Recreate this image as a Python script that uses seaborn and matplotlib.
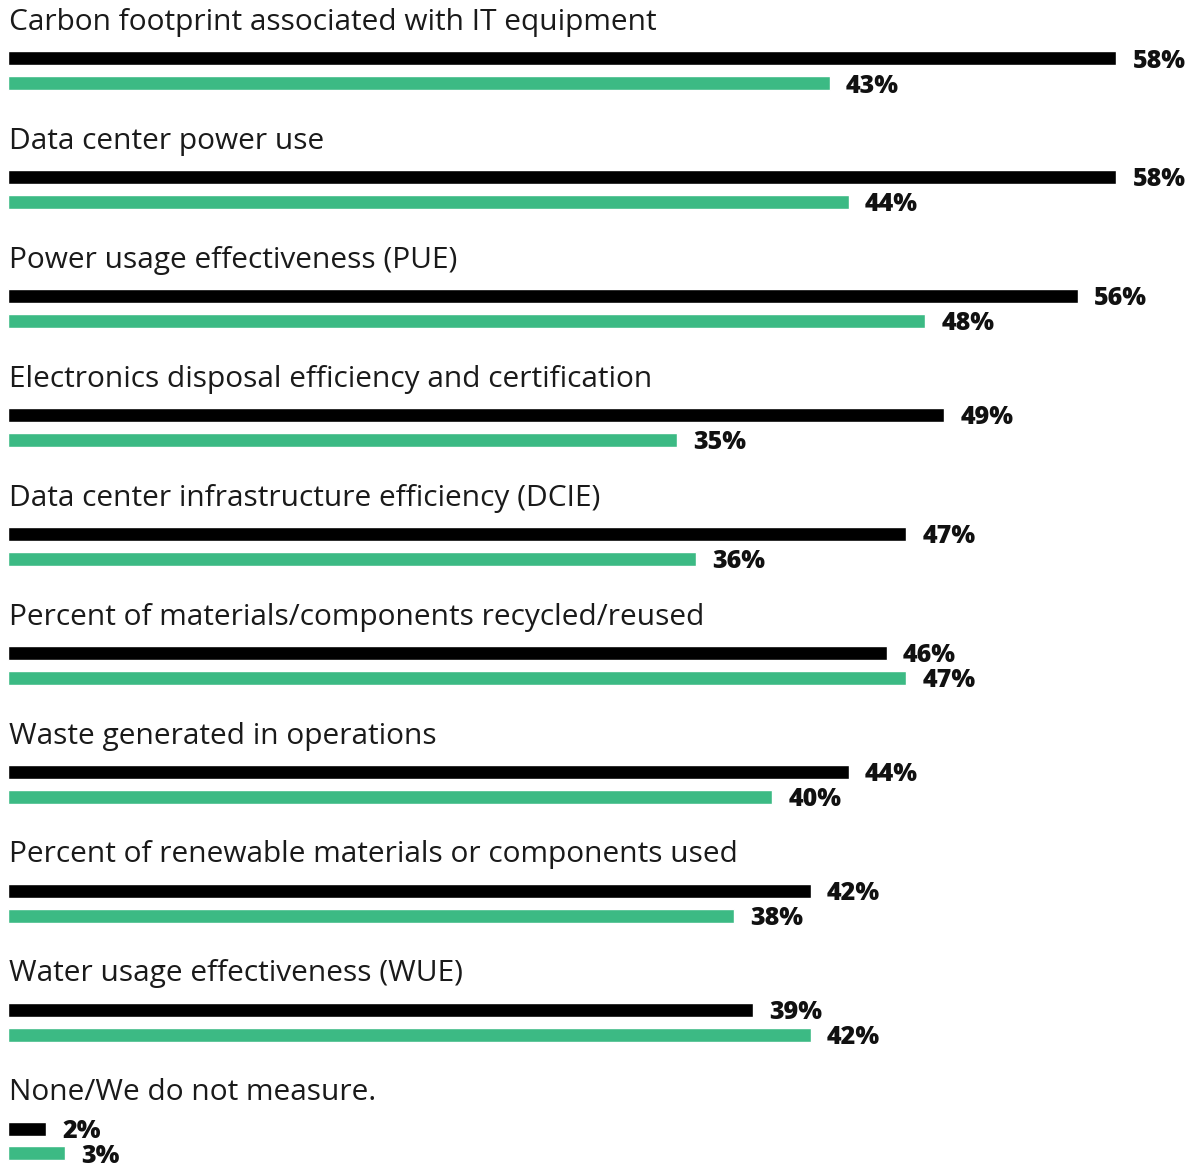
import pandas as pd
import matplotlib.pyplot as plt
import seaborn as sns

categories = [
    'Carbon footprint associated with IT equipment',
    'Data center power use',
    'Power usage effectiveness (PUE)',
    'Electronics disposal efficiency and certification',
    'Data center infrastructure efficiency (DCIE)',
    'Percent of materials/components recycled/reused',
    'Waste generated in operations',
    'Percent of renewable materials or components used',
    'Water usage effectiveness (WUE)',
    'None/We do not measure.',
]
series_1 = [58, 58, 56, 49, 47, 46, 44, 42, 39, 2]
series_2 = [43, 44, 48, 35, 36, 47, 40, 38, 42, 3]
series_names = ['Series 1', 'Series 2']
colors = ['#000000', '#3CBA84']

df = pd.DataFrame({
    'category': categories * 2,
    'series': [series_names[0]] * len(categories) + [series_names[1]] * len(categories),
    'value': series_1 + series_2,
})

sns.set_style('white')
plt.rcParams['font.family'] = ['Open Sans', 'DejaVu Sans']

fig = plt.figure(figsize=(11.91, 11.68), dpi=100)
ax = fig.add_axes([8 / 1191, 0, 1 - 8 / 1191, 1])

sns.barplot(data=df, y='category', x='value', hue='series', orient='h',
            palette=colors, saturation=1, width=0.42, gap=0.44, legend=False,
            ax=ax, order=categories, hue_order=series_names)

# percentage labels next to bar ends
for cont in ax.containers:
    labels = ax.bar_label(cont, fmt='%d%%', padding=11.5, fontsize=18,
                          fontweight='heavy', color='#111111')
    for t in labels:
        t.set_va('center_baseline')

# category names above each pair of bars
for i, cat in enumerate(categories):
    ax.text(0.05, i - 0.405, cat, va='center', ha='left', fontsize=21.5,
            color='#1a1a1a')

ax.set_xlim(0, 61.9)
ax.set_ylim(9.227, -0.593)
ax.axis('off')

fig.savefig('out.png', dpi=100)
plt.close()
